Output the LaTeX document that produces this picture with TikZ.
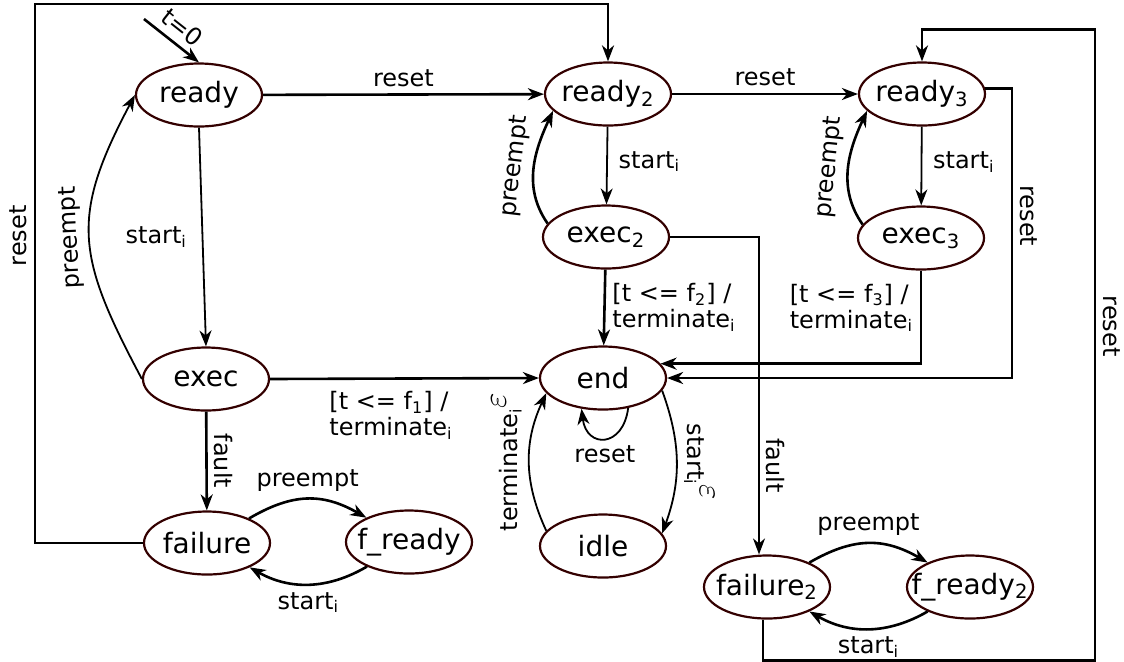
\documentclass[tikz,border=0pt]{standalone}
\usepackage{fontspec}
\usepackage{graphicx}
\setmainfont{DejaVu Sans}
\usetikzlibrary{shapes.geometric,arrows.meta}
\definecolor{statecol}{HTML}{330000}
\newcommand{\nd}[1]{\makebox[0pt]{#1}}
\newcommand{\eps}{\raisebox{6pt}{\scalebox{1.4}{$\varepsilon$}}}
\tikzset{
  state/.style={ellipse, draw=statecol, line width=1.1pt, minimum width=63pt,
    minimum height=31.5pt, inner sep=0pt, font=\fontsize{14}{16}\selectfont},
  lbl/.style={font=\fontsize{12}{13}\selectfont},
  trans/.style={-{Stealth[length=8pt,width=6pt,inset=2.5pt]}, line width=0.9pt},
  thick trans/.style={trans, line width=1.3pt},
}
\begin{document}
\begin{tikzpicture}[x=0.5pt,y=0.5pt]
      \useasboundingbox (0,0) rectangle (1124,-661);
      \draw
        (199,-95) node[state] (ready){\nd{ready}}
        (608,-94) node[state] (ready2){\nd{ready\textsubscript{2}}}
        (922,-94) node[state] (ready3){\nd{ready\textsubscript{3}}}
        (606,-237) node[state] (exec2){\nd{exec\textsubscript{2}}}
        (921,-238) node[state] (exec3){\nd{exec\textsubscript{3}}}
        (206,-379) node[state] (exec){\nd{exec}}
        (603,-378) node[state] (end){\nd{end}}
        (603,-546) node[state] (idle){\nd{idle}}
        (207,-543) node[state] (failure){\nd{failure}}
        (409,-542) node[state] (fready){\nd{f\_ready}}
        (767,-587) node[state] (failure2){\nd{failure\textsubscript{2}}}
        (970,-587) node[state] (fready2){\nd{f\_ready\textsubscript{2}}};
      \coordinate (init) at (144,-19);
      \begin{scope}[thick trans]
        \draw (init) to node[lbl, sloped, above] {t=0} (ready.north);
        \draw (ready) to node[lbl, above] {reset} (ready2);
        \draw (ready2) to node[lbl, above] {reset} (ready3);
        \draw (exec.east) to node[lbl, pos=0.45, below=2.5pt, align=left] {[t <= f\textsubscript{1}] /\\terminate\textsubscript{i}} (end.west);
        \draw (exec) to node[lbl, sloped, above] {fault} (failure);
        \draw (exec2) to node[lbl, right, align=left] {[t <= f\textsubscript{2}] /\\terminate\textsubscript{i}} (end);
        \draw (exec3.south) |- node[lbl, pos=0.2, left, align=left] {[t <= f\textsubscript{3}] /\\terminate\textsubscript{i}} (end.14);
        \draw (exec2.167) to[out=125, in=245] node[lbl, sloped, above] {preempt} (ready2.197);
        \draw (exec3.167) to[out=125, in=245] node[lbl, sloped, above] {preempt} (ready3.197);
        \draw (failure) to[bend left=30, looseness=1.1] node[lbl, above] {preempt} (fready);
        \draw (fready) to[bend left=30] node[lbl, below] {start\textsubscript{i}} (failure);
        \draw (failure2) to[bend left=30, looseness=1.1] node[lbl, above] {preempt} (fready2);
        \draw (fready2) to[bend left=30] node[lbl, below] {start\textsubscript{i}} (failure2);
        \draw (failure.west) -| ++(-108,539) node[lbl, pos=0.785, sloped, above] {reset} -| (ready2.north);
        \draw (ready3.5) -- ++(27,0) |- node[lbl, pos=0.22, sloped, above] {reset} (end.east);
        \draw ([xshift=-2pt]failure2.south) |- ++(332,-41) -- ++(0,631)
          node[lbl, pos=0.53, rotate=-90, anchor=south] {reset} -| (ready3.north);
      \end{scope}
      \begin{scope}[trans]
        \draw (ready.south) to node[lbl, left=4pt] {start\textsubscript{i}} (exec.north);
        \draw (exec.west) to[out=118, in=242, looseness=1.25] node[lbl, sloped, above, allow upside down] {preempt} (ready.west);
        \draw (ready2) to node[lbl, pos=0.45, right=2pt] {start\textsubscript{i}} (exec2);
        \draw (ready3) to node[lbl, pos=0.45, right=2pt] {start\textsubscript{i}} (exec3);
        \draw (exec2.east) -| node[lbl, pos=0.86, sloped, above] {fault} ([xshift=-4pt]failure2.north);
        \draw (end.-12) to[out=-70, in=70] node[lbl, sloped, above] {start\textsubscript{i}\eps} (idle.12);
        \draw (idle.165) to[out=115, in=-115] node[lbl, sloped, above] {terminate\textsubscript{i}\eps} (end.195);
        \draw (end.-50) .. controls +(-5,-40) and +(5,-40) .. node[lbl, below] {reset} (end.-125);
      \end{scope}
    \end{tikzpicture}
\end{document}
